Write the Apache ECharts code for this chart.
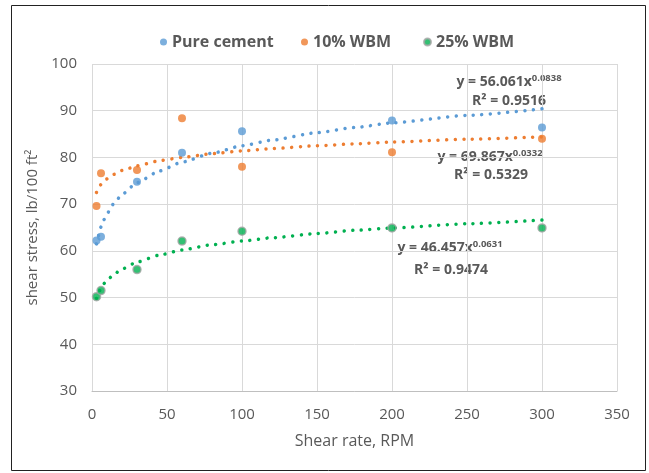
<!DOCTYPE html>
<html>
<head>
<meta charset="utf-8">
<script src="https://cdn.jsdelivr.net/npm/echarts@6/dist/echarts.min.js"></script>
<style>
  html, body { margin: 0; padding: 0; background: #fff; }
  #chart { width: 649px; height: 473px; }
</style>
</head>
<body>
<div id="chart"></div>
<script>
// measured shear rates (RPM)
const shearRates = [3, 6, 30, 60, 100, 200, 300]
// shear stress, lb/100 ft2
const pureCement = [62.2, 63.0, 74.8, 81.0, 85.6, 87.9, 86.4]
const wbm10 = [69.6, 76.6, 77.3, 88.4, 78.0, 81.1, 84.0]
const wbm25 = [50.2, 51.5, 56.0, 62.1, 64.2, 64.9, 64.9]

// power trendlines
const trendX = [3, 4, 6, 8, 10, 15, 20, 30, 45, 60, 80, 100, 120, 150, 175, 200, 250, 300]
const trendPure = [61.5, 63.0, 65.1, 66.7, 68.0, 70.3, 72.1, 74.6, 77.1, 79.0, 80.9, 82.5, 83.7, 85.3, 86.4, 87.4, 89.0, 90.4]
const trend10 = [72.5, 73.2, 74.2, 74.9, 75.4, 76.4, 77.2, 78.2, 79.3, 80.0, 80.8, 81.4, 81.9, 82.5, 82.9, 83.3, 83.9, 84.4]
const trend25 = [49.8, 50.7, 52.0, 53.0, 53.7, 55.1, 56.1, 57.6, 59.1, 60.2, 61.3, 62.1, 62.8, 63.7, 64.4, 64.9, 65.8, 66.6]

const seriesNames = ['Pure cement', '10% WBM', '25% WBM']
const colors = ['#5B9BD5', '#ED7D31', '#00B050']

const font = '"Open Sans", "Noto Sans", sans-serif'
const textColor = '#595959'

const pairs = (xs, ys) => xs.map((x, i) => [x, ys[i]])

const chart = echarts.init(document.getElementById('chart'), null, { renderer: 'canvas' })

const dotLine = (name, data, color) => ({
  name: name + ' trend',
  type: 'line',
  data: data,
  showSymbol: false,
  symbol: 'none',
  smooth: 0.2,
  smoothMonotone: 'x',
  z: 1,
  silent: true,
  lineStyle: { color: color, width: 3.5, type: [0.01, 8.6], cap: 'round' }
})

const legendAt = (name, left) => ({
  data: [name],
  left: left,
  top: 29,
  icon: 'circle',
  itemWidth: 7,
  itemHeight: 7,
  textStyle: { fontFamily: font, fontSize: 16, fontWeight: 'bold', color: textColor }
})

const eqLabel = (x, y, coef, exp) => ({
  type: 'text',
  x: x,
  y: y,
  style: {
    text: '{t|y = ' + coef + 'x}{s|' + exp + '}',
    align: 'center',
    verticalAlign: 'middle',
    rich: {
      t: { fontFamily: font, fontSize: 14, fontWeight: 'bold', fill: textColor },
      s: { fontFamily: font, fontSize: 9.5, fontWeight: 'bold', fill: textColor, padding: [0, 0, 8, 0] }
    }
  }
})

const r2Label = (x, y, r2) => ({
  type: 'text',
  x: x,
  y: y,
  style: {
    text: 'R² = ' + r2,
    align: 'center',
    verticalAlign: 'middle',
    fontFamily: font,
    fontSize: 14,
    fontWeight: 'bold',
    fill: textColor
  }
})

chart.setOption({
  backgroundColor: '#fff',
  animation: false,
  textStyle: { fontFamily: font, color: textColor },
  legend: [
    legendAt(seriesNames[0], 155),
    legendAt(seriesNames[1], 296),
    legendAt(seriesNames[2], 418)
  ],
  grid: { left: 92, right: 32, top: 64, bottom: 82 },
  xAxis: {
    type: 'value',
    min: 0,
    max: 350,
    interval: 50,
    name: 'Shear rate, RPM',
    nameLocation: 'middle',
    nameGap: 42,
    nameTextStyle: { fontFamily: font, fontSize: 16, color: textColor },
    axisLine: { show: true, lineStyle: { color: '#BFBFBF', width: 1 } },
    axisTick: { show: false },
    axisLabel: { fontFamily: font, fontSize: 15, color: textColor, margin: 16 },
    splitLine: { show: true, lineStyle: { color: '#D9D9D9', width: 1 } }
  },
  yAxis: {
    type: 'value',
    min: 30,
    max: 100,
    interval: 10,
    name: 'shear stress, lb/100 ft²',
    nameLocation: 'middle',
    nameGap: 50,
    nameTextStyle: { fontFamily: font, fontSize: 15, color: textColor },
    axisLine: { show: false },
    axisTick: { show: false },
    axisLabel: { fontFamily: font, fontSize: 15, color: textColor, margin: 15 },
    splitLine: { show: true, lineStyle: { color: '#D9D9D9', width: 1 } }
  },
  series: [
    dotLine(seriesNames[0], pairs(trendX, trendPure), colors[0]),
    dotLine(seriesNames[1], pairs(trendX, trend10), colors[1]),
    dotLine(seriesNames[2], pairs(trendX, trend25), colors[2]),
    {
      name: seriesNames[0],
      type: 'scatter',
      data: pairs(shearRates, pureCement),
      symbolSize: 8,
      z: 3,
      itemStyle: { color: colors[0] }
    },
    {
      name: seriesNames[1],
      type: 'scatter',
      data: pairs(shearRates, wbm10),
      symbolSize: 8,
      z: 3,
      itemStyle: { color: colors[1] }
    },
    {
      name: seriesNames[2],
      type: 'scatter',
      data: pairs(shearRates, wbm25),
      symbolSize: 8,
      z: 3,
      itemStyle: { color: colors[2], borderColor: '#A5A5A5', borderWidth: 1.5 }
    }
  ],
  graphic: [
    {
      type: 'rect',
      shape: { x: 11.5, y: 5.5, width: 634, height: 465 },
      style: { fill: null, stroke: '#222', lineWidth: 1 },
      silent: true
    },
    eqLabel(509, 82, '56.061', '0.0838'),
    r2Label(509, 101, '0.9516'),
    eqLabel(490, 157, '69.867', '0.0332'),
    r2Label(491, 175, '0.5329'),
    eqLabel(450, 248, '46.457', '0.0631'),
    r2Label(451, 270, '0.9474')
  ]
})
</script>
</body>
</html>
